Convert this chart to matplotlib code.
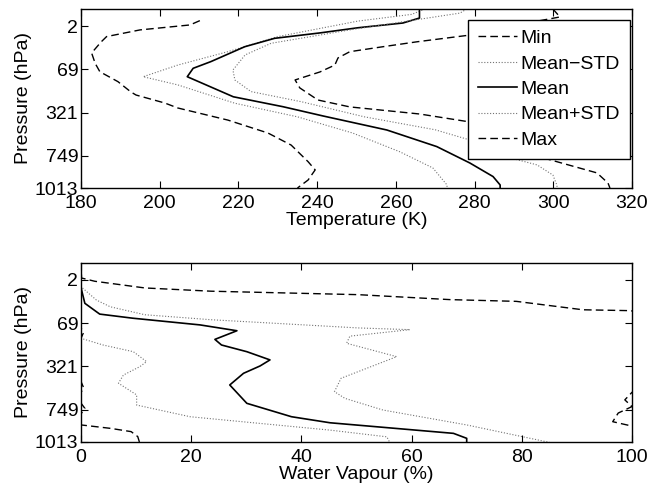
import numpy as np
import matplotlib
matplotlib.use("Agg")
import matplotlib.pyplot as plt

plt.rcParams['font.family'] = ['Liberation Sans', 'DejaVu Sans']
plt.rcParams['font.size'] = 14

# y axis is the model level index, labelled with pressure
tick_levels = [8, 28, 48, 68, 83]
tick_labels = ['2', '69', '321', '749', '1013']

# --- temperature (K) ---
t_min_lev = [5.4, 7.4, 9.7, 12.8, 15.3, 20.4, 25.2, 29.1, 33.7, 38.5, 39.9, 43.6, 45.9,
             51.5, 57.5, 63.1, 70.8, 74.6, 79.3, 83]
t_min = [210.2, 207.7, 195.0, 186.5, 185.1, 182.7, 183.6, 184.8, 189.4, 192.7, 194.0, 201.3,
         204.6, 217.3, 227.5, 233.4, 237.7, 239.5, 237.7, 235.0]

t_msd_lev = [0, 2.5, 5.6, 12.8, 19.8, 26, 31.4, 35.2, 43.7, 50, 57.5, 66.2, 73.7, 81.6, 83]
t_msd = [267.4, 264, 250.4, 230, 217.3, 204.6, 195.8, 204.6, 219.1, 235, 249, 261, 269.4, 273, 273]

t_mean_lev = [0, 4.2, 6.5, 8.7, 11.1, 13.6, 17.5, 24.4, 27.5, 31.4, 37.6, 40.7, 45.3, 49.6,
              56.1, 63.8, 71.4, 77.7, 81.6, 83]
t_mean = [266, 266, 261.8, 250.4, 240.7, 229.2, 221.6, 213, 208.5, 207, 214.8, 218.7, 231.3,
          241.5, 257.7, 270.4, 278.8, 284.7, 286.5, 286.5]

t_psd_lev = [0, 1.9, 9.7, 12.8, 15.9, 21.3, 28.3, 32.9, 38.3, 43, 50, 56, 63, 69, 72.3, 77,
             81.6, 83]
t_psd = [278, 276.3, 248.3, 238.4, 228.3, 221.7, 218.6, 219.1, 223.2, 236, 252, 270, 283, 289,
         295.9, 299.9, 300.9, 301]

t_max_lev = [0, 3.7, 8.8, 12.1, 15.2, 17.5, 19.8, 22.7, 26, 29.2, 32.9, 36.6, 42.2, 45.4,
             48.7, 52.9, 60, 68.6, 76, 80.7, 83]
t_max = [299.9, 301.7, 286.5, 278.8, 265.4, 256.7, 248.3, 245.3, 244.5, 240.7, 234.4, 235.6,
         240.2, 248.3, 266.1, 280.6, 290, 296.6, 311.1, 313.9, 314.4]

# --- water vapour (%) ---
q_min_lev = [0, 30, 32.7, 35, 55, 58, 60, 65, 67.4, 70, 75.1, 76.7, 78.2, 80.5, 83]
q_min = [0, 0, 0.4, 0, 0, 0.5, 0, 0, 0.7, 0, 0, 5.4, 9.1, 10.3, 10.6]

q_msd_lev = [0, 35, 38.1, 41.2, 45.8, 48.1, 52, 55.8, 61.2, 65.9, 71.3, 77.5, 80.6, 83]
q_msd = [0, 0, 4, 9.5, 11.9, 10.7, 7.7, 6.8, 10.1, 10.1, 19.8, 45.2, 55.5, 56]

q_mean_lev = [0, 11.1, 12.6, 18.8, 22.7, 23.8, 25.7, 28.8, 31.5, 35.5, 38.1, 41.2, 45, 47.8,
              51.2, 56.6, 65.1, 71.3, 74.1, 79, 81.3, 83]
q_mean = [0, 0, 0.1, 0.7, 2.8, 3.4, 9.4, 21.6, 28.3, 24.3, 25.5, 30.1, 34.3, 32.5, 29.5, 27,
          30.1, 38.2, 45.2, 67.6, 70, 70]

q_psd_lev = [0, 11.1, 17.3, 20.4, 24.1, 26.4, 30.2, 31, 34, 37.3, 43.5, 53.5, 59.7, 62.8,
             68.2, 75.1, 82.9, 83]
q_psd = [0, 0, 2.8, 5.3, 11.6, 23.6, 50.3, 59.7, 48.8, 48.2, 57.3, 47.2, 46, 47.9, 54.8, 70,
         84.5, 85]

q_max_lev = [0, 7.1, 8.6, 11.7, 13.2, 14.8, 17.1, 17.9, 21.8, 22.2, 23, 58, 60, 63.5, 66.6,
             69.6, 73.6, 76.8, 83]
q_max = [0, 0.1, 2.5, 11.6, 23.6, 50.3, 67, 79, 91.1, 99.6, 102, 102, 100, 98.7, 100, 97.5,
         96.5, 102, 102]

names = ['Min', 'Mean\u2212STD', 'Mean', 'Mean+STD', 'Max']
dash = (0, (5.5, 3))
dot = (0, (1, 1.6))
styles = [dict(ls=dash, lw=1.0, color='k'),
          dict(ls=dot, lw=0.8, color='0.45'),
          dict(ls='-', lw=1.2, color='k'),
          dict(ls=dot, lw=0.8, color='0.45'),
          dict(ls=dash, lw=1.0, color='k')]

fig = plt.figure(figsize=(6.5, 4.91), dpi=100)
ax1 = fig.add_axes([0.1246, 0.6171, 0.8477, 0.3646])
ax2 = fig.add_axes([0.1246, 0.0998, 0.8477, 0.3652])

top = [(t_min_lev, t_min), (t_msd_lev, t_msd), (t_mean_lev, t_mean),
       (t_psd_lev, t_psd), (t_max_lev, t_max)]
bot = [(q_min_lev, q_min), (q_msd_lev, q_msd), (q_mean_lev, q_mean),
       (q_psd_lev, q_psd), (q_max_lev, q_max)]

for (lev, val), st, nm in zip(top, styles, names):
    ax1.plot(val, lev, label=nm, **st)
for (lev, val), st in zip(bot, styles):
    ax2.plot(val, lev, **st)

ax1.set_xlim(180, 320)
ax1.set_xticks(np.arange(180, 321, 20))
ax1.set_xlabel('Temperature (K)', labelpad=0)
ax2.set_xlim(0, 100)
ax2.set_xticks(np.arange(0, 101, 20))
ax2.set_xlabel('Water Vapour (%)', labelpad=0)

for ax in (ax1, ax2):
    ax.set_ylim(83, 0)
    ax.set_yticks(tick_levels)
    ax.set_yticklabels(tick_labels)
    ax.set_ylabel('Pressure (hPa)', labelpad=2)
    ax.tick_params(direction='in', top=True, right=True, length=5, width=0.8, pad=2)
    ax.tick_params(axis='x', pad=5)
    for s in ax.spines.values():
        s.set_linewidth(1.0)

leg = ax1.legend(loc='upper right', bbox_to_anchor=(0.9964, 0.939), fancybox=False,
                 framealpha=1, edgecolor='k', handlelength=2.0, handletextpad=0.2,
                 borderpad=0.5, labelspacing=0.4, borderaxespad=0)
leg.get_frame().set_linewidth(1.0)

fig.savefig('out.png', dpi=100)
